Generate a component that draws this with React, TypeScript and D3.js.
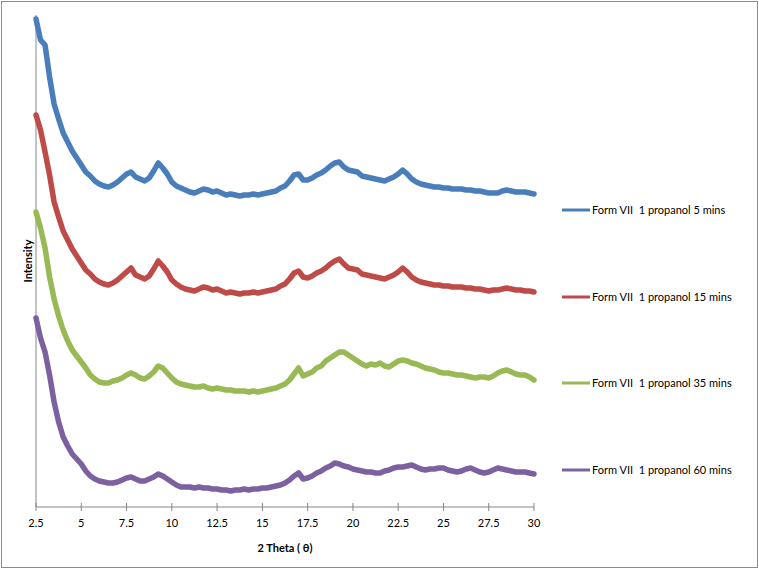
import React from 'react';
import * as d3 from 'd3';

// 2θ sampling grid (every 0.25°)
const theta: number[] = d3.range(0, 111).map((i) => 2.5 + i * 0.25);

const seriesNames = [
  'Form VII  1 propanol 5 mins',
  'Form VII  1 propanol 15 mins',
  'Form VII  1 propanol 35 mins',
  'Form VII  1 propanol 60 mins',
];

const colors = ['#4A7EBB', '#BE4B48', '#98B954', '#7D60A0'];

const xTicks = [2.5, 5, 7.5, 10, 12.5, 15, 17.5, 20, 22.5, 25, 27.5, 30];

// Intensities (arbitrary units, stacked offsets as plotted)
const mins5 = [
  488, 467, 462, 430, 403, 388, 374, 365, 356, 349,
  342, 335, 331, 326, 323, 321, 320, 322, 325, 329,
  333, 335, 330, 328, 326, 329, 336, 344, 339, 333,
  325, 321, 319, 317, 315, 314, 316, 318, 317, 315,
  316, 314, 312, 313, 312, 311, 312, 312, 313, 312,
  313, 314, 315, 316, 319, 321, 326, 332, 333, 327,
  327, 329, 332, 334, 337, 341, 344, 345, 340, 337,
  336, 335, 331, 330, 329, 328, 327, 326, 328, 330,
  333, 337, 333, 328, 325, 323, 322, 321, 320, 320,
  319, 319, 318, 318, 318, 317, 317, 316, 316, 315,
  314, 314, 314, 316, 317, 316, 315, 315, 315, 314,
  313,
];

const mins15 = [
  392, 377, 355, 332, 305, 290, 276, 267, 258, 251,
  244, 237, 233, 228, 225, 223, 222, 224, 227, 231,
  235, 239, 232, 230, 228, 231, 238, 246, 241, 235,
  227, 223, 220, 218, 217, 216, 218, 220, 219, 217,
  218, 216, 214, 215, 214, 213, 214, 214, 215, 214,
  215, 216, 217, 218, 221, 223, 228, 234, 236, 230,
  229, 231, 234, 236, 239, 243, 246, 248, 243, 239,
  238, 237, 233, 232, 231, 230, 229, 228, 230, 232,
  235, 239, 235, 230, 227, 225, 224, 223, 222, 222,
  221, 221, 220, 220, 220, 219, 219, 218, 218, 217,
  216, 217, 217, 218, 219, 218, 217, 217, 216, 216,
  215,
];

const mins35 = [
  295, 279, 259, 230, 208, 191, 177, 166, 157, 151,
  145, 139, 132, 128, 125, 124, 124, 126, 127, 129,
  132, 134, 132, 129, 128, 131, 135, 141, 139, 134,
  129, 125, 123, 122, 121, 120, 120, 121, 119, 118,
  119, 118, 117, 117, 116, 116, 116, 115, 116, 115,
  116, 117, 118, 119, 121, 123, 127, 133, 139, 131,
  133, 135, 139, 141, 146, 149, 152, 155, 155, 152,
  149, 146, 143, 141, 143, 142, 144, 141, 140, 143,
  146, 147, 146, 144, 143, 141, 139, 138, 137, 135,
  134, 134, 133, 132, 132, 131, 130, 129, 130, 130,
  129, 131, 134, 136, 137, 135, 133, 132, 132, 130,
  127,
];

const mins60 = [
  189, 169, 155, 132, 105, 85, 70, 61, 53, 48,
  43, 36, 31, 28, 26, 25, 24, 24, 25, 27,
  29, 30, 28, 26, 26, 28, 30, 33, 31, 28,
  25, 22, 20, 20, 20, 19, 20, 19, 19, 18,
  18, 17, 17, 16, 17, 17, 18, 17, 18, 18,
  19, 19, 20, 21, 22, 24, 27, 31, 34, 28,
  29, 31, 34, 36, 39, 41, 44, 43, 41, 40,
  38, 37, 36, 35, 35, 34, 34, 36, 37, 39,
  40, 40, 41, 42, 40, 38, 37, 38, 38, 39,
  39, 37, 36, 35, 36, 38, 39, 37, 35, 34,
  35, 37, 39, 38, 37, 36, 35, 35, 35, 34,
  33,
];

const allSeries = [mins5, mins15, mins35, mins60];

const W = 759;
const H = 570;
const FONT = 'Lato, "Liberation Sans", sans-serif';

export default function App() {
  const x = d3.scaleLinear().domain([2.5, 30]).range([36, 534]);
  const y = d3.scaleLinear().domain([0, 492]).range([507, 15]);
  const line = d3
    .line<number>()
    .x((_, i) => x(theta[i]))
    .y((d) => y(d));

  const legendY = [210, 297, 383, 470];

  return (
    <div style={{ position: 'absolute', left: 0, top: 0 }}>
      <svg width={W} height={H} style={{ display: 'block', background: '#fff' }}>
        <rect x={1.5} y={1.5} width={W - 3} height={H - 4} fill="#fff" stroke="#8c8c8c" strokeWidth={1} />
        {/* axes */}
        <line x1={x(2.5)} x2={x(2.5)} y1={y(492)} y2={y(0)} stroke="#868686" strokeWidth={1} />
        <line x1={x(2.5)} x2={x(30)} y1={y(0)} y2={y(0)} stroke="#868686" strokeWidth={1} />
        {xTicks.map((t) => (
          <g key={t}>
            <line x1={x(t)} x2={x(t)} y1={y(0) - 4} y2={y(0) + 4} stroke="#868686" strokeWidth={1} />
            <text x={x(t)} y={y(0) + 20} textAnchor="middle" fontSize={11} fontFamily={FONT} fill="#000">
              {String(t)}
            </text>
          </g>
        ))}
        <text x={285} y={552} textAnchor="middle" fontSize={11} fontWeight="bold" fontFamily={FONT} fill="#000">
          2 Theta ( θ)
        </text>
        <text
          transform={`translate(32, 261) rotate(-90)`}
          textAnchor="middle"
          fontSize={11}
          fontWeight="bold"
          fontFamily={FONT}
          fill="#000"
        >
          Intensity
        </text>
        {/* series */}
        {allSeries.map((s, k) => (
          <path
            key={k}
            d={line(s) || ''}
            fill="none"
            stroke={colors[k]}
            strokeWidth={5.5}
            strokeLinejoin="round"
            strokeLinecap="round"
          />
        ))}
        {/* legend */}
        {seriesNames.map((n, k) => (
          <g key={n}>
            <line x1={562} x2={590} y1={legendY[k]} y2={legendY[k]} stroke={colors[k]} strokeWidth={3} />
            <text x={592} y={legendY[k] + 4} fontSize={11} fontFamily={FONT} fill="#000" style={{ whiteSpace: 'pre' }}>
              {n}
            </text>
          </g>
        ))}
      </svg>
    </div>
  );
}
